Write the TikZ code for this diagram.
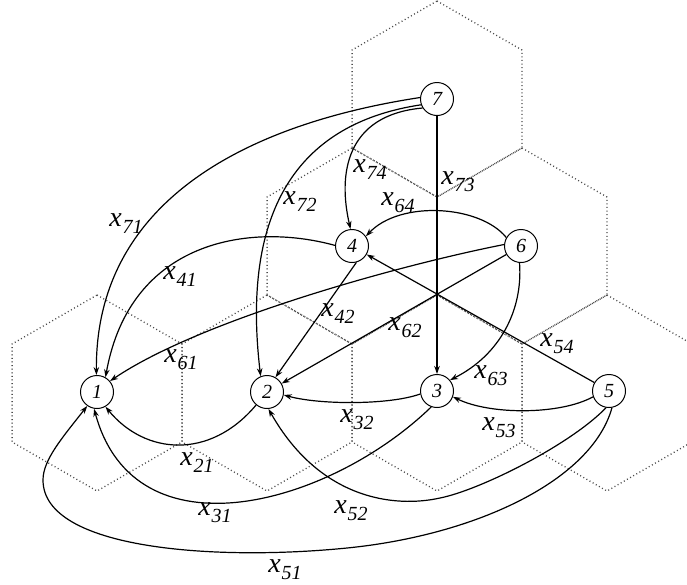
\documentclass[tikz,border=0pt]{standalone}
\usepackage{fontspec}
\setmainfont{Liberation Serif}
\usetikzlibrary{arrows.meta}
\newcommand\xsub[1]{\fontsize{28}{28}\selectfont x\kern1pt\raisebox{-7pt}{\fontsize{20}{20}\selectfont #1}}
\newcommand\hexcell[2]{\draw[hexline] (#1,#2-98) -- (#1+84.9,#2-49) -- (#1+84.9,#2+49) -- (#1,#2+98) -- (#1-84.9,#2+49) -- (#1-84.9,#2-49) -- cycle;}
\begin{document}
\begin{tikzpicture}[x=1pt,y=-1pt,
  vtx/.style={circle,draw,line width=1pt,fill=white,minimum size=33pt,inner sep=0pt,font=\fontsize{20}{20}\selectfont\itshape},
  lbl/.style={inner sep=0pt,font=\itshape},
  edge/.style={line width=1.2pt,-{Stealth[length=8pt,width=5.5pt]}},
  hexline/.style={black!70,line width=1.3pt,dash pattern=on 1pt off 2.6pt}
]
\useasboundingbox (0,0) rectangle (687,584);
\clip (0,0) rectangle (687,584);
% hexagonal cells
\hexcell{437}{99}
\hexcell{352}{246}
\hexcell{522}{246}
\hexcell{97}{393}
\hexcell{267}{393}
\hexcell{437}{393}
\hexcell{607}{393}
% nodes
\node[vtx] (n7) at (437,99) {7};
\node[vtx] (n4) at (352,246) {4};
\node[vtx] (n6) at (521,246) {6};
\node[vtx] (n1) at (97,392) {1};
\node[vtx] (n2) at (267,392) {2};
\node[vtx] (n3) at (437,391) {3};
\node[vtx] (n5) at (609,391) {5};
% connectors
\draw[edge] (n7.175) .. controls (240,125) and (95,205) .. (n1.92);
\draw[edge] (n4.178) .. controls (250,222) and (130,240) .. (n1.60);
\draw[edge] (n7.200) .. controls (320,120) and (238,185) .. (n2.112);
\draw[edge] (n7.212) .. controls (345,115) and (338,175) .. (n4.95);
\draw[edge] (n7) -- (n3);
\draw[edge] (n6.150) .. controls (480,205) and (400,200) .. (n4.35);
\draw[edge] (n6.175) .. controls (400,265) and (200,320) .. (n1.40);
\draw[edge] (n4.-75) -- (n2.60);
\draw[edge] (n6.210) -- (n2.30);
\draw[edge] (n5.150) -- (n4.-30);
\draw[edge] (n6.-95) .. controls (523,310) and (500,355) .. (n3.40);
\draw[edge] (n5.200) .. controls (560,415) and (490,415) .. (n3.-20);
\draw[edge] (n3.190) .. controls (390,405) and (320,405) .. (n2.-10);
\draw[edge] (n3.-110) .. controls (330,505) and (135,560) .. (n1.-100);
\draw[edge] (n2.-130) .. controls (210,460) and (145,455) .. (n1.-60);
\draw[edge] (n5.-100) .. controls (570,445) and (480,490) .. (440,498) .. controls (395,508) and (320,500) .. (n2.-85);
\draw[edge] (n5.-80) .. controls (592,480) and (477,535) .. (347,548) .. controls (217,561) and (43,550) .. (43,480) .. controls (43,460) and (62,438) .. (n1.-125);
% labels
\node[lbl] (l71) at (126,224) {\xsub{71}};
\node[lbl] (l72) at (300,202) {\xsub{72}};
\node[lbl] (l41) at (180,277) {\xsub{41}};
\node[lbl] (l74) at (370,170) {\xsub{74}};
\node[lbl] (l73) at (458,182) {\xsub{73}};
\node[lbl] (l64) at (398,203) {\xsub{64}};
\node[lbl] (l61) at (181,360) {\xsub{61}};
\node[lbl] (l42) at (338,314) {\xsub{42}};
\node[lbl] (l62) at (405,328) {\xsub{62}};
\node[lbl] (l54) at (557,344) {\xsub{54}};
\node[lbl] (l63) at (491,376) {\xsub{63}};
\node[lbl] (l32) at (357,420) {\xsub{32}};
\node[lbl] (l53) at (499,428) {\xsub{53}};
\node[lbl] (l21) at (197,463) {\xsub{21}};
\node[lbl] (l31) at (215,513) {\xsub{31}};
\node[lbl] (l52) at (351,511) {\xsub{52}};
\node[lbl] (l51) at (285,570) {\xsub{51}};
\end{tikzpicture}
\end{document}
